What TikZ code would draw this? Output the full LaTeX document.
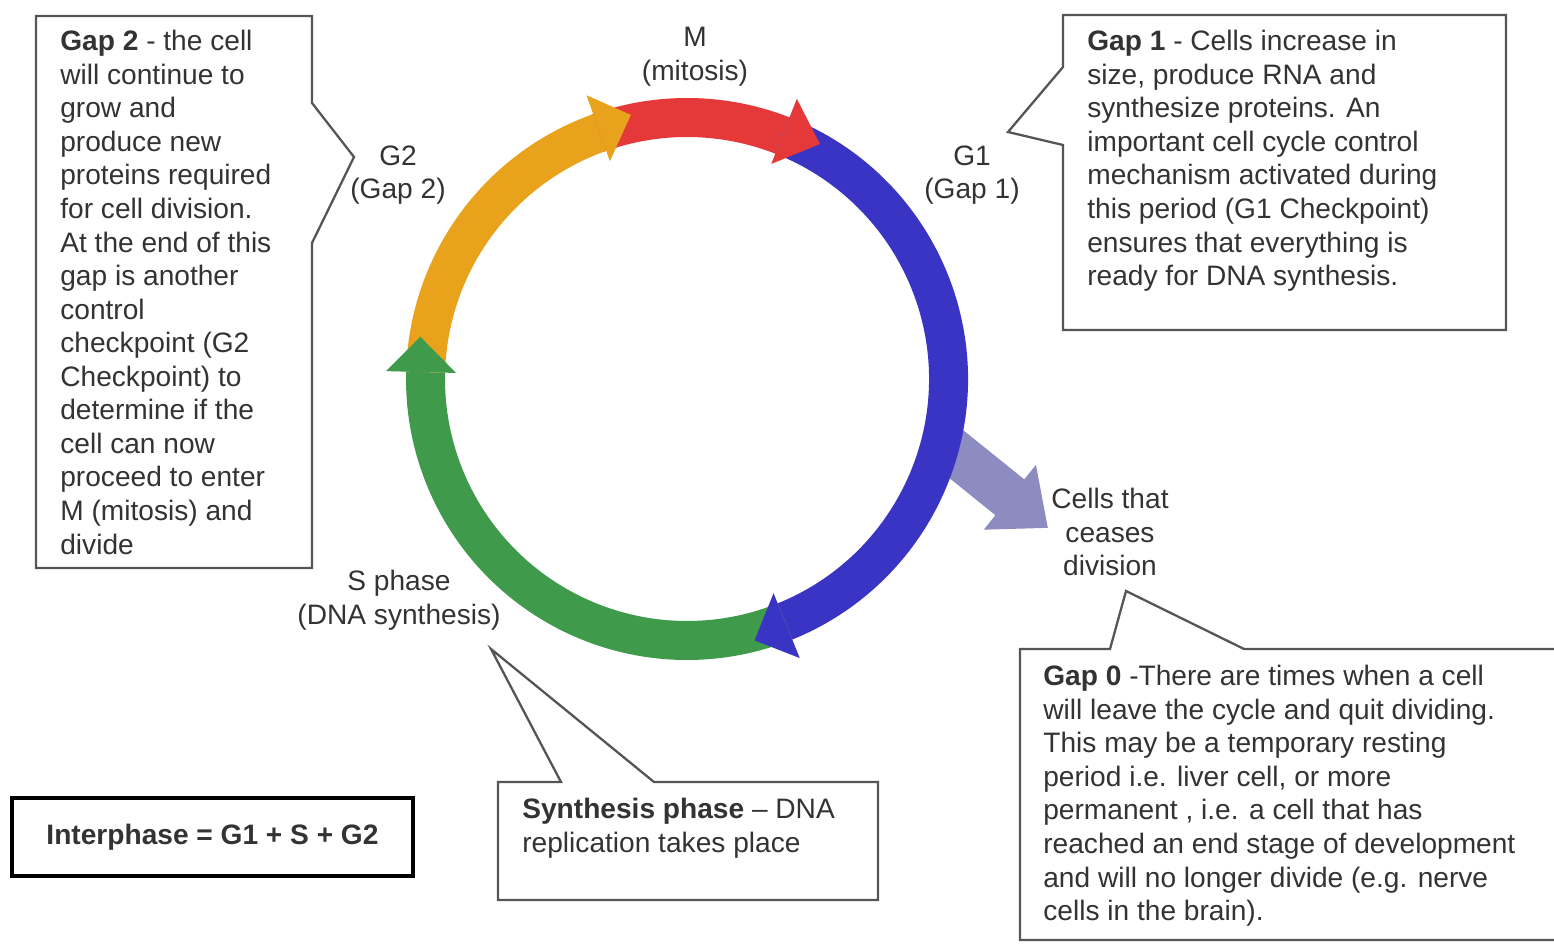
\documentclass[tikz,border=0pt]{standalone}
\usepackage{fontspec}
\setmainfont{Liberation Sans}
\usepackage{tikz}
\usetikzlibrary{arrows.meta}
\definecolor{redph}{HTML}{E53838}
\definecolor{orangeph}{HTML}{E8A21C}
\definecolor{greenph}{HTML}{3F9A4B}
\definecolor{blueph}{HTML}{3A34C4}
\definecolor{exitph}{HTML}{8C8CC0}
\definecolor{textgray}{HTML}{333333}
\definecolor{boxline}{HTML}{555555}
\tikzset{callout/.style={draw=boxline,line width=1.3pt,fill=white,line join=miter},
body/.style={align=left,inner sep=0pt,text=textgray,font=\fontsize{16}{19.1}\selectfont},
phase/.style={align=center,inner sep=0pt,text=textgray,font=\fontsize{16}{19.1}\selectfont},
quit/.style={exitph,line width=0.92cm,-{Triangle[length=0.98cm,width=1.6cm]}}}

\begin{document}
\begin{tikzpicture}[x=0.02cm,y=0.02cm]
\useasboundingbox (0,0) rectangle (1554,944);
% cells leaving the cycle
\coordinate (exit) at (935,507);
\coordinate (exittip) at (1048,416);
\draw[quit] (exit) -- (exittip);
% the ring, centre (687,565)
\begin{scope}[shift={(687,565)}]
\foreach \col/\sa/\ba in {redph/110/68.6,blueph/68.6/-68,greenph/-68/-181.5,orangeph/178.5/109.5}
  \fill[\col] (\sa:281) arc[start angle=\sa,end angle=\ba,radius=281]
    -- (\ba:242) arc[start angle=\ba,end angle=\sa,radius=242] -- cycle;
\foreach \col/\ba/\ta in {redph/68.6/60.5,blueph/-68/-75.5,greenph/-181.5/-189,orangeph/109.5/102}
  \fill[\col] (\ba:231) -- (\ba:301) -- (\ta:270) -- cycle;
\end{scope}
% phase labels
\node[phase] (mlabel) at (695,887) {M\\(mitosis)};
\node[phase] (gtwolabel) at (398,769) {G2\\(Gap 2)};
\node[phase] (gonelabel) at (972,769) {G1\\(Gap 1)};
\node[phase] (slabel) at (399,344) {S phase\\(DNA synthesis)};
\node[phase] (exitlabel) at (1110,412) {Cells that\\ceases\\division};
% callouts
\draw[callout] (36,928) -- (312,928) -- (312,841) -- (354,787) -- (312,701) -- (312,376) -- (36,376) -- cycle;
\draw[callout] (1063,929) -- (1506,929) -- (1506,614) -- (1063,614) -- (1063,799) -- (1008,812) -- (1063,877) -- cycle;
\draw[callout] (1020,295) -- (1110,295) -- (1126,353) -- (1244,295) -- (1570,295) -- (1570,4) -- (1020,4) -- cycle;
\draw[callout] (498,162) -- (561,162) -- (491,295) -- (654,162) -- (878,162) -- (878,44) -- (498,44) -- cycle;
\node[body,anchor=north west] (gtwotext) at (60,914) {\textbf{Gap 2} - the cell\\will continue to\\grow and\\produce new\\proteins required\\for cell division.\\At the end of this\\gap is another\\control\\checkpoint (G2\\Checkpoint) to\\determine if the\\cell can now\\proceed to enter\\M (mitosis) and\\divide};
\node[body,anchor=north west] (gonetext) at (1087,914) {\textbf{Gap 1} - Cells increase in\\size, produce RNA and\\synthesize proteins. An\\important cell cycle control\\mechanism activated during\\this period (G1 Checkpoint)\\ensures that everything is\\ready for DNA synthesis.};
\node[body,anchor=north west] (gzerotext) at (1043,279) {\textbf{Gap 0} -There are times when a cell\\will leave the cycle and quit dividing.\\This may be a temporary resting\\period i.e. liver cell, or more\\permanent , i.e. a cell that has\\reached an end stage of development\\and will no longer divide (e.g. nerve\\cells in the brain).};
\node[body,anchor=north west] (synthtext) at (522,146) {\textbf{Synthesis phase} – DNA\\replication takes place};
\node[draw=black,line width=2.6pt,minimum width=8.02cm,minimum height=1.56cm,font=\fontsize{16}{19.1}\selectfont\bfseries,text=textgray] (interphase) at (212.5,107) {Interphase = G1 + S + G2};
\end{tikzpicture}
\end{document}
